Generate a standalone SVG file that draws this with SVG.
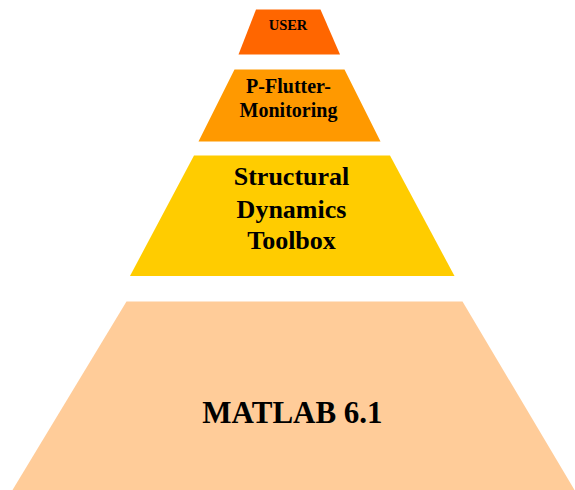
<svg xmlns="http://www.w3.org/2000/svg" width="575" height="490" viewBox="0 0 575 490">
<style>
.lbl{font-family:"Liberation Serif","Times New Roman",serif;font-weight:bold;fill:#000;text-anchor:middle}
</style>
<rect width="575" height="490" fill="#fff"/>
<g id="connectors"></g>
<g id="user">
<polygon points="256,9.5 320.5,9.5 340,54.5 238.5,54.5" fill="#FF6600"/>
<text class="lbl" x="288" y="30" font-size="14.5">USER</text>
</g>
<g id="p-flutter">
<polygon points="234.5,69.5 344.5,69.5 380.5,141.5 198.5,141.5" fill="#FF9900"/>
<text class="lbl" x="288.5" y="92.5" font-size="20">P-Flutter-</text>
<text class="lbl" x="288.5" y="116.5" font-size="20">Monitoring</text>
</g>
<g id="sdt">
<polygon points="194,155.5 390,155.5 454.5,276 130,276" fill="#FFCC00"/>
<text class="lbl" x="291.5" y="185" font-size="26">Structural</text>
<text class="lbl" x="291.5" y="218" font-size="26">Dynamics</text>
<text class="lbl" x="291.5" y="248.5" font-size="26">Toolbox</text>
</g>
<g id="matlab">
<polygon points="126.5,301.5 462.5,301.5 574.5,490 12.5,490" fill="#FFCC99"/>
<text class="lbl" x="292.5" y="423.3" font-size="31">MATLAB 6.1</text>
</g>
</svg>
